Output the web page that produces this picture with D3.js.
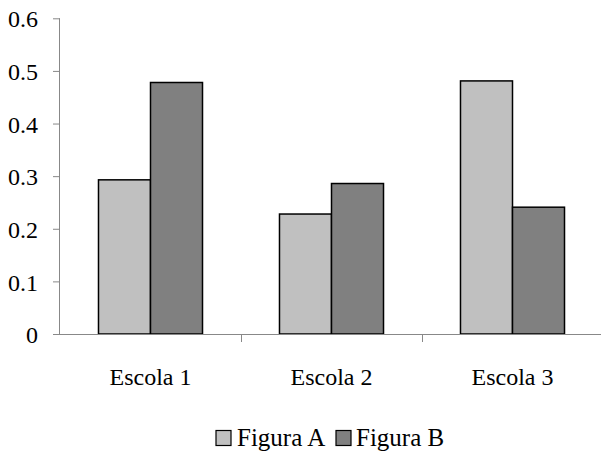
<!DOCTYPE html>
<html>
<head>
<meta charset="utf-8">
<script src="https://cdn.jsdelivr.net/npm/d3@7"></script>
</head>
<body style="margin:0">
<svg id="chart" width="601" height="454" font-family="Liberation Serif"></svg>
<script>
const categories = ["Escola 1", "Escola 2", "Escola 3"];
const seriesNames = ["Figura A", "Figura B"];
const figuraA = [0.293, 0.228, 0.481];
const figuraB = [0.478, 0.286, 0.241];
const yTicks = [0, 0.1, 0.2, 0.3, 0.4, 0.5, 0.6];
const colors = ["#c0c0c0", "#808080"];

const svg = d3.select("#chart");
const plotLeft = 60, plotRight = 603, plotTop = 18.3, plotBottom = 334;

const x = d3.scaleBand().domain(categories).range([plotLeft, plotRight]).paddingInner(0).paddingOuter(0);
const inner = d3.scaleBand().domain(seriesNames).range([0, x.bandwidth()]).paddingInner(0).paddingOuter(0.74);
const y = d3.scaleLinear().domain([0, 0.6]).range([plotBottom, plotTop]);

const series = [figuraA, figuraB];
const rows = categories.map((c, i) => ({ cat: c, vals: seriesNames.map((s, j) => ({ s, v: series[j][i], j })) }));

// bars
const g = svg.append("g");
rows.forEach(r => {
  g.selectAll(null).data(r.vals).enter().append("rect")
    .attr("x", d => x(r.cat) + inner(d.s))
    .attr("y", d => y(d.v))
    .attr("width", inner.bandwidth())
    .attr("height", d => y(0) - y(d.v))
    .attr("fill", d => colors[d.j])
    .attr("stroke", "#000")
    .attr("stroke-width", 1.5);
});

// y axis
const yAxis = d3.axisLeft(y).tickValues(yTicks).tickSize(7).tickPadding(15)
  .tickFormat(d => d === 0 ? "0" : d3.format(".1f")(d));
const ya = svg.append("g").attr("transform", `translate(${plotLeft},0)`).call(yAxis);
ya.attr("font-family", "Liberation Serif").attr("font-size", 24);
ya.select(".domain").attr("stroke", "#888").attr("d", `M-0.5,${plotTop}V${plotBottom}`);
ya.selectAll(".tick line").attr("stroke", "#888");
ya.selectAll(".tick text").attr("fill", "#000").attr("dy", "0.36em")
  .attr("font-family", "Liberation Serif").attr("font-size", 24);

// x axis
const xa = svg.append("g").attr("transform", `translate(0,${plotBottom})`)
  .call(d3.axisBottom(x).tickSize(0).tickPadding(34));
xa.attr("font-family", "Liberation Serif").attr("font-size", 24);
xa.select(".domain").remove();
xa.selectAll(".tick text").attr("fill", "#000")
  .attr("font-family", "Liberation Serif").attr("font-size", 24);
svg.append("line").attr("x1", plotLeft - 7).attr("x2", 601).attr("y1", plotBottom + 0.5).attr("y2", plotBottom + 0.5)
  .attr("stroke", "#888");
// category separators
svg.selectAll(".sep").data(categories.slice(1)).enter().append("line")
  .attr("x1", d => x(d) + 0.5).attr("x2", d => x(d) + 0.5)
  .attr("y1", plotBottom).attr("y2", plotBottom + 8).attr("stroke", "#888");

// legend
const legendItems = [{ name: seriesNames[0], x: 216, tx: 237 }, { name: seriesNames[1], x: 336, tx: 356 }];
const lg = svg.append("g");
legendItems.forEach((d, i) => {
  lg.append("rect").attr("x", d.x).attr("y", 430.5).attr("width", 15).attr("height", 15)
    .attr("fill", colors[i]).attr("stroke", "#000").attr("stroke-width", 1.2);
  lg.append("text").attr("x", d.tx).attr("y", 446).text(d.name)
    .attr("font-family", "Liberation Serif").attr("font-size", 25);
});
</script>
</body>
</html>
